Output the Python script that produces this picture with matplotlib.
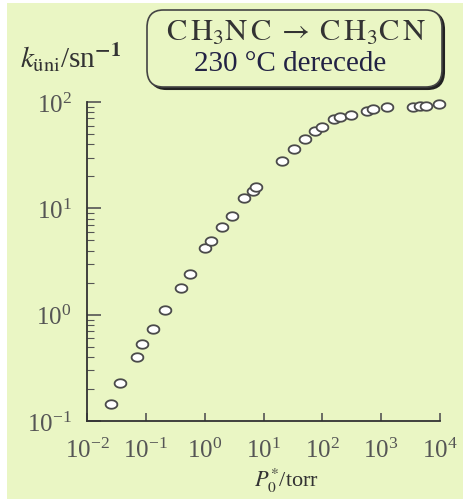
import numpy as np
import matplotlib
matplotlib.use("Agg")
import matplotlib.pyplot as plt
from matplotlib.patches import Rectangle, FancyBboxPatch
from matplotlib.path import Path

# Data: initial pressure (torr) vs unimolecular rate constant (1/s)
pressure = [0.026, 0.037, 0.072, 0.087, 0.131, 0.21, 0.40, 0.565, 1.0, 1.29,
            2.0, 2.9, 4.7, 6.6, 7.6, 21, 32.5, 51, 75, 98, 158, 201, 305,
            578, 716, 1250, 3540, 4600, 5890, 9440]
k_uni = [0.145, 0.23, 0.40, 0.53, 0.73, 1.11, 1.8, 2.4, 4.2, 4.9,
         6.7, 8.5, 12.4, 14.5, 15.9, 27.8, 36.3, 45, 53, 58, 69.5, 72, 76,
         83, 86, 89, 89, 91, 92.7, 95]

bg = '#eaf6c4'
plt.rcParams['font.family'] = ['Liberation Serif', 'DejaVu Serif']
plt.rcParams['mathtext.fontset'] = 'stix'

fig = plt.figure(figsize=(4.63, 5.02), dpi=100)
fig.patch.set_facecolor('white')
fig.patches.append(Rectangle((7 / 463, 2 / 502), 1, 1 - 6 / 502, transform=fig.transFigure,
                             facecolor=bg, edgecolor='none', zorder=-5))

ax = fig.add_axes([87 / 463, 80 / 502, 353 / 463, 319 / 502])
ax.set_zorder(2)
ax.patch.set_alpha(0)

# slightly flattened open circles
t = np.linspace(0, 2 * np.pi, 40)
ellipse = Path(np.column_stack([np.cos(t), 0.72 * np.sin(t)]))
ax.plot(pressure, k_uni, linestyle='none', marker=ellipse, markersize=8.5,
        markerfacecolor='white', markeredgecolor='#4a4a4a', markeredgewidth=1.3, clip_on=False)

ax.set_xscale('log')
ax.set_yscale('log')
ax.set_xlim(1e-2, 1e4)
ax.set_ylim(1e-1, 1e2)
ax.set_xticks([1e-2, 1e-1, 1e0, 1e1, 1e2, 1e3, 1e4])
ax.set_yticks([1e-1, 1e0, 1e1, 1e2])

for s in ['top', 'right']:
    ax.spines[s].set_visible(False)
for s in ['left', 'bottom']:
    ax.spines[s].set_color('#333333')
    ax.spines[s].set_linewidth(1.3)

ax.tick_params(axis='y', which='major', direction='in', length=10, width=1.2,
               colors='#555555', labelsize=18, pad=11)
ax.tick_params(axis='y', which='minor', direction='in', length=5, width=0.8, colors='#555555')
ax.tick_params(axis='x', which='major', direction='in', length=6, width=1.2,
               colors='#555555', labelsize=18, pad=12)
ax.tick_params(axis='x', which='minor', direction='in', length=3, width=0.8, colors='#555555')

ax.set_xlabel(r'$P_0^{*}$/torr', fontsize=16, color='#333333', labelpad=8)
ax.xaxis.set_label_coords(0.564, -0.14)

fig.text(20 / 463, 1 - 68 / 502, r'$k_{\mathrm{üni}}$/sn$^{\mathbf{-1}}$', fontsize=21,
         color='#333333', ha='left', va='baseline')

# shadowed rounded box with the reaction
shadow = FancyBboxPatch((150 / 463, 1 - 90 / 502), 294 / 463, 77 / 502,
                        boxstyle='round,pad=0,rounding_size=0.035', transform=fig.transFigure,
                        facecolor='#222222', edgecolor='#222222', linewidth=1.5, zorder=1)
box = FancyBboxPatch((147 / 463, 1 - 88 / 502), 295 / 463, 77 / 502,
                     boxstyle='round,pad=0,rounding_size=0.035', transform=fig.transFigure,
                     facecolor=bg, edgecolor='#444444', linewidth=1.2, zorder=2)
fig.patches.extend([shadow, box])
fig.text(296 / 463, 1 - 33 / 502, r'$\mathrm{C\,H_3N\,C} \;\rightarrow\; \mathrm{C\,H_3C\,N}$',
         fontsize=22, color='#333333', ha='center', va='center', zorder=3)
fig.text(290 / 463, 1 - 64 / 502, '230 °C derecede', fontsize=21,
         color='#222244', ha='center', va='center', zorder=3)

fig.savefig('out.png', dpi=100, facecolor=fig.get_facecolor())
